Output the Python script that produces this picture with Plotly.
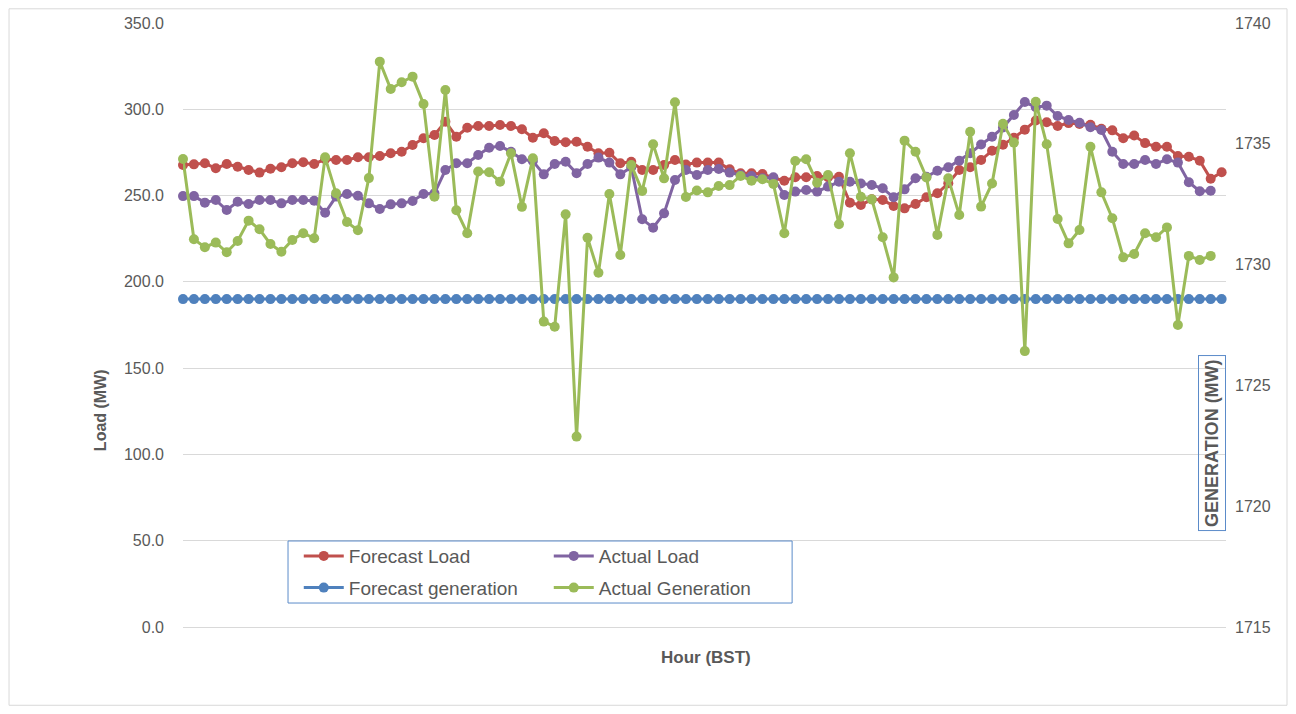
import plotly.graph_objects as go

# ---- data ----
hours = [f"{h:02d}:{m:02d}" for h in range(24) for m in (0, 15, 30, 45)]

forecast_load = [
    267.7, 268.1, 268.7, 265.8, 268.3, 266.7, 264.8, 263.3, 265.5, 266.4,
    268.7, 269.3, 268.3, 271.0, 270.6, 270.6, 272.2, 272.2, 272.9, 274.5,
    275.4, 279.3, 283.2, 285.1, 292.8, 284.1, 289.3, 290.3, 290.3, 290.9,
    290.3, 288.4, 283.5, 286.1, 281.6, 280.9, 281.2, 278.3, 274.5, 274.8,
    268.7, 269.6, 264.8, 264.8, 267.7, 270.6, 268.0, 269.1, 269.1, 269.1,
    265.2, 262.9, 262.9, 262.5, 260.2, 258.6, 260.6, 260.6, 261.3, 260.6,
    260.9, 245.9, 244.5, 247.8, 247.4, 244.0, 242.6, 245.1, 249.0, 251.3,
    257.1, 264.8, 266.4, 270.6, 276.0, 279.5, 283.5, 288.2, 293.5, 292.5,
    290.3, 292.0, 291.5, 291.0, 288.7, 287.8, 283.2, 284.8, 280.4, 278.3,
    278.3, 272.9, 272.5, 270.2, 259.7, 263.5,
]

actual_load = [
    249.7, 249.7, 245.9, 247.4, 241.6, 246.4, 245.1, 247.4, 247.4, 245.5,
    247.4, 247.4, 247.0, 240.0, 249.4, 250.9, 249.9, 245.5, 242.2, 244.9,
    245.5, 246.9, 250.9, 251.3, 264.8, 268.7, 268.7, 273.5, 277.7, 278.7,
    275.4, 271.0, 270.0, 262.3, 268.3, 269.6, 262.9, 268.3, 272.0, 269.1,
    262.3, 266.4, 236.3, 231.4, 239.7, 259.0, 264.8, 261.9, 264.8, 265.4,
    263.3, 261.9, 261.3, 260.0, 260.6, 250.3, 252.3, 253.2, 252.3, 255.2,
    258.0, 258.0, 257.0, 256.1, 254.2, 249.0, 253.6, 260.0, 260.9, 264.4,
    266.4, 270.2, 274.5, 279.6, 284.1, 289.4, 296.7, 304.2, 301.2, 302.1,
    296.1, 293.8, 292.2, 289.6, 288.0, 275.4, 268.3, 268.3, 270.6, 268.3,
    271.0, 269.1, 257.7, 252.5, 252.8,
]

forecast_generation = [
    190.0, 190.0, 190.0, 190.0, 190.0, 190.0, 190.0, 190.0, 190.0, 190.0,
    190.0, 190.0, 190.0, 190.0, 190.0, 190.0, 190.0, 190.0, 190.0, 190.0,
    190.0, 190.0, 190.0, 190.0, 190.0, 190.0, 190.0, 190.0, 190.0, 190.0,
    190.0, 190.0, 190.0, 190.0, 190.0, 190.0, 190.0, 190.0, 190.0, 190.0,
    190.0, 190.0, 190.0, 190.0, 190.0, 190.0, 190.0, 190.0, 190.0, 190.0,
    190.0, 190.0, 190.0, 190.0, 190.0, 190.0, 190.0, 190.0, 190.0, 190.0,
    190.0, 190.0, 190.0, 190.0, 190.0, 190.0, 190.0, 190.0, 190.0, 190.0,
    190.0, 190.0, 190.0, 190.0, 190.0, 190.0, 190.0, 190.0, 190.0, 190.0,
    190.0, 190.0, 190.0, 190.0, 190.0, 190.0, 190.0, 190.0, 190.0, 190.0,
    190.0, 190.0, 190.0, 190.0, 190.0, 190.0,
]

actual_generation = [
    1734.37, 1731.05, 1730.72, 1730.91, 1730.51, 1730.98, 1731.82, 1731.46, 1730.85, 1730.53,
    1731.02, 1731.30, 1731.09, 1734.44, 1732.95, 1731.76, 1731.42, 1733.58, 1738.40, 1737.27,
    1737.55, 1737.78, 1736.65, 1732.81, 1737.23, 1732.25, 1731.30, 1733.85, 1733.82, 1733.43,
    1734.61, 1732.39, 1734.40, 1727.64, 1727.43, 1732.08, 1722.88, 1731.11, 1729.66, 1732.92,
    1730.40, 1734.12, 1733.05, 1734.98, 1733.57, 1736.72, 1732.80, 1733.07, 1732.99, 1733.25,
    1733.29, 1733.67, 1733.47, 1733.53, 1733.34, 1731.30, 1734.29, 1734.36, 1733.39, 1733.71,
    1731.67, 1734.61, 1732.81, 1732.70, 1731.13, 1729.47, 1735.13, 1734.67, 1733.61, 1731.23,
    1733.57, 1732.05, 1735.50, 1732.40, 1733.36, 1735.83, 1735.05, 1726.42, 1736.74, 1734.98,
    1731.89, 1730.88, 1731.43, 1734.88, 1732.99, 1731.92, 1730.30, 1730.44, 1731.30, 1731.13,
    1731.54, 1727.50, 1730.36, 1730.19, 1730.36,
]

left_ticks = [0, 50, 100, 150, 200, 250, 300, 350]
right_ticks = [1715, 1720, 1725, 1730, 1735, 1740]

# ---- style ----
FONT = "Liberation Sans"
GREY = "#595959"
RED, PURPLE, BLUE, GREEN = "#C0504D", "#8064A2", "#4F81BD", "#9BBB59"
MS = 10
LW = 3

fig = go.Figure()


def add(name, y, color, axis, legend):
    fig.add_trace(go.Scatter(
        x=hours[:len(y)], y=y, name=name, mode="lines+markers",
        line=dict(color=color, width=LW),
        marker=dict(color=color, size=MS),
        yaxis=axis, legend=legend, cliponaxis=False,
    ))


add("Forecast Load", forecast_load, RED, "y", "legend")
add("Actual Load", actual_load, PURPLE, "y", "legend")
add("Forecast generation", forecast_generation, BLUE, "y", "legend2")
add("Actual Generation", actual_generation, GREEN, "y2", "legend2")

legend_common = dict(
    orientation="h", xanchor="left", yanchor="middle",
    font=dict(family=FONT, size=19, color=GREY),
    bgcolor="rgba(0,0,0,0)", entrywidth=195, entrywidthmode="pixels",
    itemwidth=40, tracegroupgap=0,
)

fig.update_layout(
    width=1288, height=706,
    margin=dict(l=175, r=70, t=15, b=87, autoexpand=False),
    paper_bgcolor="white", plot_bgcolor="white",
    font=dict(family=FONT, size=16, color=GREY),
    xaxis=dict(
        type="category", categoryorder="array", categoryarray=hours,
        range=[0, 95.4], showticklabels=False, ticks="",
        showgrid=False, showline=True, linecolor="#D9D9D9", linewidth=1,
        zeroline=False, automargin=False,
    ),
    yaxis=dict(
        range=[0, 350], tickvals=left_ticks, tickformat=".1f",
        showgrid=True, gridcolor="#D9D9D9", gridwidth=1,
        zeroline=False, ticks="", ticklabelstandoff=18, automargin=False,
        tickfont=dict(family=FONT, size=16, color=GREY),
    ),
    yaxis2=dict(
        overlaying="y", side="right", range=[1715, 1740], tickvals=right_ticks,
        showgrid=False, zeroline=False, ticks="", ticklabelstandoff=8,
        automargin=False,
        tickfont=dict(family=FONT, size=16, color=GREY),
    ),
    legend=dict(x=0.111, y=0.1175, **legend_common),
    legend2=dict(x=0.111, y=0.065, **legend_common),
    showlegend=True,
)

# legend frame
fig.add_shape(type="rect", xref="paper", yref="paper",
              x0=0.1007, x1=0.584, y0=0.0397, y1=0.1424,
              line=dict(color="#5B8BC9", width=1), fillcolor="rgba(0,0,0,0)",
              layer="above")
# outer chart-area frame
fig.add_shape(type="rect", xref="paper", yref="paper",
              x0=-0.1668, x1=1.0585, y0=-0.1296, y1=1.0235,
              line=dict(color="#D9D9D9", width=1), fillcolor="rgba(0,0,0,0)")

fig.add_annotation(text="<b>Load (MW)</b>", xref="paper", yref="paper",
                   x=-0.0796, y=0.359, textangle=-90, showarrow=False,
                   xanchor="center", yanchor="middle",
                   font=dict(family=FONT, size=16, color=GREY))
fig.add_annotation(text="<b>Hour (BST)</b>", xref="paper", yref="paper",
                   x=0.5015, y=-0.0497, showarrow=False,
                   xanchor="center", yanchor="middle",
                   font=dict(family=FONT, size=17, color=GREY))
fig.add_annotation(text="<b>GENERATION (MW)</b>", xref="paper", yref="paper",
                   x=0.9866, y=0.3046, textangle=-90, showarrow=False,
                   xanchor="center", yanchor="middle",
                   bordercolor="#5B8BC9", borderwidth=1, borderpad=3,
                   font=dict(family=FONT, size=18, color=GREY))

fig.write_html("out.html")
